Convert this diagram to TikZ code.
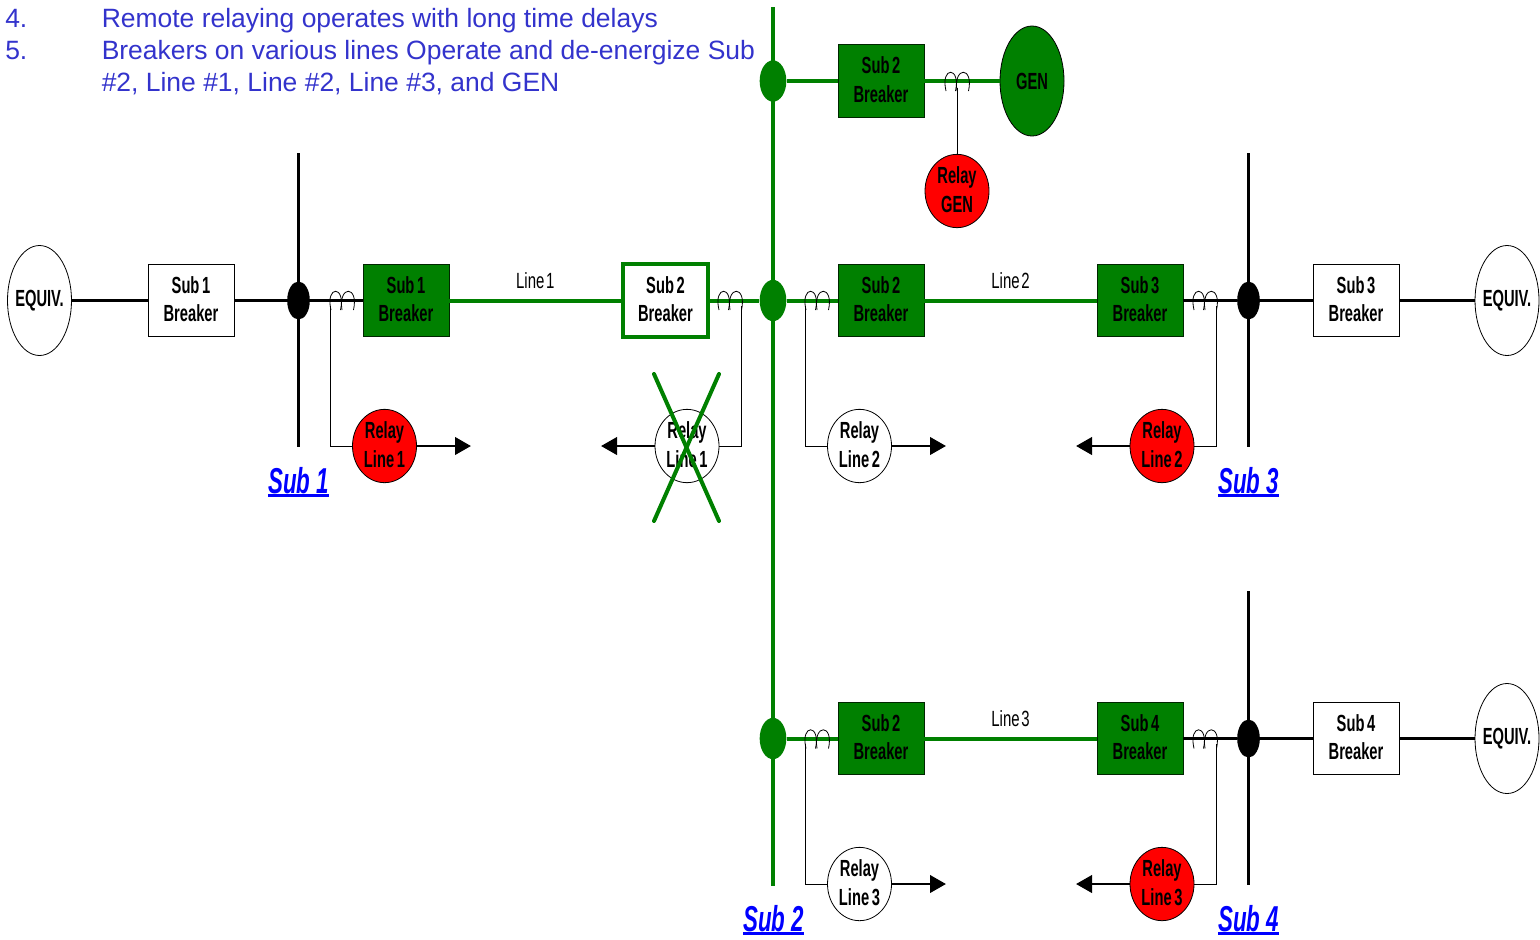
\documentclass[tikz,border=0pt]{standalone}
\usepackage{fontspec}
\usetikzlibrary{shapes.geometric,arrows.meta}
\setmainfont{Liberation Sans}
\newfontfamily\narrowf[FakeStretch=0.63,WordSpace=0.65]{Liberation Sans Bold}
\newfontfamily\linef[FakeStretch=0.68,WordSpace=0.4]{Liberation Sans}
\newfontfamily\subf[FakeStretch=0.62,WordSpace=1.0]{Liberation Sans Bold Italic}
\definecolor{gr}{RGB}{0,128,0}
\definecolor{hdr}{RGB}{51,51,204}
\newcommand{\two}[2]{#1\\#2\\[-19.5pt]\mbox{}}
\newcommand{\thickul}[1]{\vtop{\hbox{#1}\kern0.6pt\hrule height 2pt}}
\newcommand{\coilat}[2]{%
  \draw[coilline] (#1+1,#2+10) .. controls (#1-5,#2-15) and (#1+16,#2-15) .. (#1+10.5,#2+10);
  \draw[coilline] (#1+12,#2+10) .. controls (#1+8,#2-15) and (#1+29,#2-15) .. (#1+23.5,#2+10);
}
\tikzset{
  x=0.75pt,y=-0.75pt,
  txt/.style={font=\narrowf\fontsize{17.5pt}{21.6pt}\selectfont,align=center,text=black,inner sep=0pt},
  whitebrk/.style={txt,draw=black,line width=0.6pt,fill=white,minimum width=64.5pt,minimum height=54.5pt},
  greenbrk/.style={txt,draw=black!70!gr,line width=0.6pt,fill=gr,minimum width=64.5pt,minimum height=54.5pt},
  hotbrk/.style={txt,draw=gr,line width=3pt,fill=white,minimum width=63.5pt,minimum height=54.5pt},
  oval/.style={txt,ellipse,draw=black,line width=0.6pt,minimum width=48pt,minimum height=82.5pt,fill=white},
  relay/.style={txt,ellipse,draw=black,line width=0.6pt,minimum width=48pt,minimum height=55pt},
  redrelay/.style={relay,fill=red},
  whiterelay/.style={relay,fill=white},
  dotb/.style={ellipse,fill=black,minimum width=17pt,minimum height=28.5pt,inner sep=0pt},
  dotg/.style={ellipse,fill=gr,minimum width=20pt,minimum height=31pt,inner sep=0pt},
  bl/.style={draw=black,line width=2.2pt},
  gl/.style={draw=gr,line width=3pt},
  wire/.style={draw=black,line width=0.7pt},
  coilline/.style={draw=black,line width=0.6pt},
  trip/.style={draw=black,line width=2.2pt,-{Triangle[length=12pt,width=13pt]}},
  hdrtxt/.style={anchor=base west,inner sep=0pt,text=hdr,font=\fontsize{19.85pt}{24pt}\selectfont},
  subtxt/.style={inner sep=0pt,text=blue,font=\subf\fontsize{27pt}{30pt}\selectfont},
  linetxt/.style={inner sep=0pt,font=\linef\fontsize{16.5pt}{20pt}\selectfont},
  crossl/.style={draw=gr,line width=3pt,line cap=round}
}
\begin{document}
\begin{tikzpicture}
\useasboundingbox (0,0) rectangle (1540,939);
% header
\node[hdrtxt] (n4) at (5,27) {4.};
\node[hdrtxt] (t4) at (101.5,27) {Remote relaying operates with long time delays};
\node[hdrtxt] (n5) at (5,59) {5.};
\node[hdrtxt] (t5a) at (101.5,59) {Breakers on various lines Operate and de-energize Sub};
\node[hdrtxt] (t5b) at (101.5,91) {\#2, Line \#1, Line \#2, Line \#3, and GEN};
% bus coordinates
\coordinate (bus1t) at (298.5,153); \coordinate (bus1b) at (298.5,447);
\coordinate (bus2t) at (773,7);   \coordinate (bus2b) at (773,886);
\coordinate (bus3t) at (1248.5,153);\coordinate (bus3b) at (1248.5,447);
\coordinate (bus4t) at (1248.5,591);\coordinate (bus4b) at (1248.5,885);
\draw[bl] (bus1t) -- (bus1b);
\draw[gl] (bus2t) -- (bus2b);
\draw[bl] (bus3t) -- (bus3b);
\draw[bl] (bus4t) -- (bus4b);
% dots
\node[dotb] (d1) at (298.5,300.5) {};
\node[dotg] (d2a) at (773,81) {};
\node[dotg] (d2b) at (773,300.5) {};
\node[dotg] (d2c) at (773,738.5) {};
\node[dotb] (d3) at (1248.5,300.5) {};
\node[dotb] (d4) at (1248.5,738.5) {};
% breakers
\node[whitebrk] (wb1) at (191,300.5) {\two{Sub 1}{Breaker}};
\node[greenbrk] (gb1) at (406,300.5) {\two{Sub 1}{Breaker}};
\node[hotbrk] (hb2) at (665.5,300.5) {\two{Sub 2}{Breaker}};
\node[greenbrk] (gb2g) at (881,81) {\two{Sub 2}{Breaker}};
\node[greenbrk] (gb2l) at (881,300.5) {\two{Sub 2}{Breaker}};
\node[greenbrk] (gb3) at (1140,300.5) {\two{Sub 3}{Breaker}};
\node[whitebrk] (wb3) at (1356,300.5) {\two{Sub 3}{Breaker}};
\node[greenbrk] (gb2c) at (881,738.5) {\two{Sub 2}{Breaker}};
\node[greenbrk] (gb4) at (1140,738.5) {\two{Sub 4}{Breaker}};
\node[whitebrk] (wb4) at (1356,738.5) {\two{Sub 4}{Breaker}};
% ovals
\node[oval] (eq1) at (39.5,300.5) {\makebox[33pt][c]{EQUIV.}};
\node[oval] (eq3) at (1507,300.5) {\makebox[33pt][c]{EQUIV.}};
\node[oval] (eq4) at (1507,738.5) {\makebox[33pt][c]{EQUIV.}};
\node[oval,fill=gr] (gen) at (1032,81) {GEN};
% relays
\node[redrelay] (rgen) at (957,191) {\two{Relay}{GEN}};
\node[redrelay] (r1a) at (384.5,446) {\two{Relay}{Line 1}};
\node[whiterelay] (r1b) at (687,446) {\two{Relay}{Line 1}};
\node[whiterelay] (r2a) at (859.5,446) {\two{Relay}{Line 2}};
\node[redrelay] (r2b) at (1162,446) {\two{Relay}{Line 2}};
\node[whiterelay] (r3a) at (859.5,884) {\two{Relay}{Line 3}};
\node[redrelay] (r3b) at (1162,884) {\two{Relay}{Line 3}};
% power lines
\draw[bl] (eq1) -- (wb1);
\draw[bl] (wb1) -- (d1);
\draw[bl] (d1) -- (gb1);
\draw[gl] (gb1) -- node[linetxt,draw=none,above=7.5pt,text=black,pos=0.5] (l1) {Line 1} (hb2);
\draw[gl] (hb2) -- (d2b);
\draw[gl] (d2b) -- (gb2l);
\draw[gl] (gb2l) -- node[linetxt,draw=none,above=7.5pt,text=black] (l2) {Line 2} (gb3);
\draw[bl] (gb3) -- (d3);
\draw[bl] (d3) -- (wb3);
\draw[bl] (wb3) -- (eq3);
\draw[gl] (d2a) -- (gb2g);
\draw[gl] (gb2g) -- (gen);
\draw[gl] (d2c) -- (gb2c);
\draw[gl] (gb2c) -- node[linetxt,draw=none,above=7.5pt,text=black] (l3) {Line 3} (gb4);
\draw[bl] (gb4) -- (d4);
\draw[bl] (d4) -- (wb4);
\draw[bl] (wb4) -- (eq4);
% current transformers
\coilat{330}{300}
\coilat{718}{300}
\coilat{805}{300}
\coilat{1193}{300}
\coilat{945}{81}
\coilat{805}{738.5}
\coilat{1193}{738.5}
\coordinate (c1) at (330.5,306);
\coordinate (c1b) at (741,306);
\coordinate (c2a) at (805.5,306);
\coordinate (c2b) at (1216,306);
\coordinate (cg) at (957,88);
\coordinate (c3a) at (805.5,744);
\coordinate (c3b) at (1216,744);
\draw[wire] (c1) |- (r1a);
\draw[wire] (c1b) |- (r1b);
\draw[wire] (c2a) |- (r2a);
\draw[wire] (c2b) |- (r2b);
\draw[wire] (cg) -- (rgen);
\draw[wire] (c3a) |- (r3a);
\draw[wire] (c3b) |- (r3b);
% trip arrows
\coordinate (a1) at (471,446); \coordinate (a2) at (601,446);
\coordinate (a3) at (946,446); \coordinate (a4) at (1076,446);
\coordinate (a5) at (946,884); \coordinate (a6) at (1076,884);
\draw[trip] (r1a) -- (a1);
\draw[trip] (r1b) -- (a2);
\draw[trip] (r2a) -- (a3);
\draw[trip] (r2b) -- (a4);
\draw[trip] (r3a) -- (a5);
\draw[trip] (r3b) -- (a6);
% cross
\coordinate (x1) at (654,374); \coordinate (x2) at (719,521);
\coordinate (x3) at (719,374); \coordinate (x4) at (654,521);
\draw[crossl] (x1) -- (x2);
\draw[crossl] (x3) -- (x4);
% sub labels
\node[subtxt] (s1) at (298.5,482) {\thickul{Sub 1}};
\node[subtxt] (s2) at (773.5,920) {\thickul{Sub 2}};
\node[subtxt] (s3) at (1248.5,482) {\thickul{Sub 3}};
\node[subtxt] (s4) at (1248.5,920) {\thickul{Sub 4}};
\end{tikzpicture}
\end{document}
